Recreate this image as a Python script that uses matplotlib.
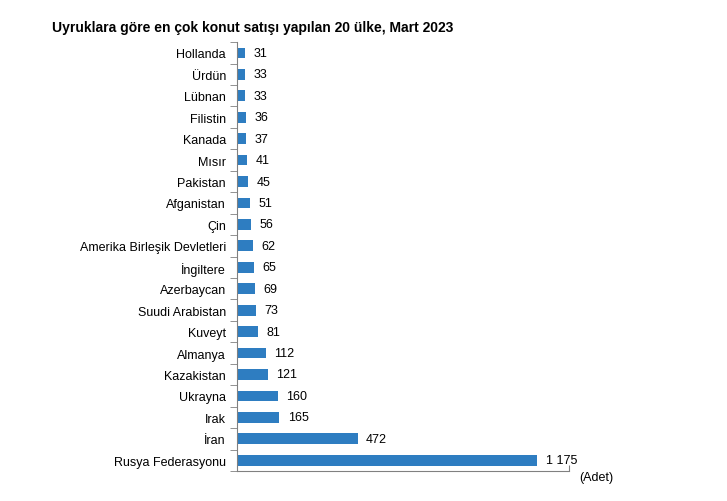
import numpy as np
import matplotlib.pyplot as plt

plt.rcParams['font.family'] = ['Liberation Sans', 'DejaVu Sans']

countries = ['Hollanda', 'Ürdün', 'Lübnan', 'Filistin', 'Kanada', 'Mısır', 'Pakistan',
             'Afganistan', 'Çin', 'Amerika Birleşik Devletleri', 'İngiltere', 'Azerbaycan',
             'Suudi Arabistan', 'Kuveyt', 'Almanya', 'Kazakistan', 'Ukrayna', 'Irak',
             'İran', 'Rusya Federasyonu']
values = [31, 33, 33, 36, 37, 41, 45, 51, 56, 62, 65, 69, 73, 81, 112, 121, 160, 165, 472, 1175]
labels = ['31', '33', '33', '36', '37', '41', '45', '51', '56', '62', '65', '69', '73', '81',
          '112', '121', '160', '165', '472', '1 175']

fig = plt.figure(figsize=(7.27, 5.02), dpi=100)
ax = fig.add_axes([0.326, 0.0598, 0.4567, 0.8542])

y = np.arange(len(countries))
ax.barh(y, values, height=0.5, color='#2E7DC1')
ax.set_ylim(len(countries) - 0.5, -0.5)
ax.set_xlim(0, 1300)

for yi, v, lab in zip(y, values, labels):
    ax.text(v + 33, yi, lab, va='center', ha='left', fontsize=9)

ax.set_yticks(y)
ax.set_yticklabels(countries, fontsize=9)
ax.tick_params(axis='y', which='major', length=0, pad=8)
ax.set_yticks(np.arange(-0.5, len(countries), 1), minor=True)
ax.tick_params(axis='y', which='minor', length=5, color='#808080')

ax.set_xticks([1300])
ax.set_xticklabels([''])
ax.tick_params(axis='x', direction='in', length=4, color='#808080')

for s in ['top', 'right']:
    ax.spines[s].set_visible(False)
for s in ['left', 'bottom']:
    ax.spines[s].set_color('#808080')
    ax.spines[s].set_linewidth(0.8)

fig.text(0.072, 0.945, 'Uyruklara göre en çok konut satışı yapılan 20 ülke, Mart 2023',
         fontsize=10, fontweight='bold', ha='left', va='center')
fig.text(0.797, 0.048, '(Adet)', fontsize=9, ha='left', va='center')

fig.savefig('out.png', dpi=100)
